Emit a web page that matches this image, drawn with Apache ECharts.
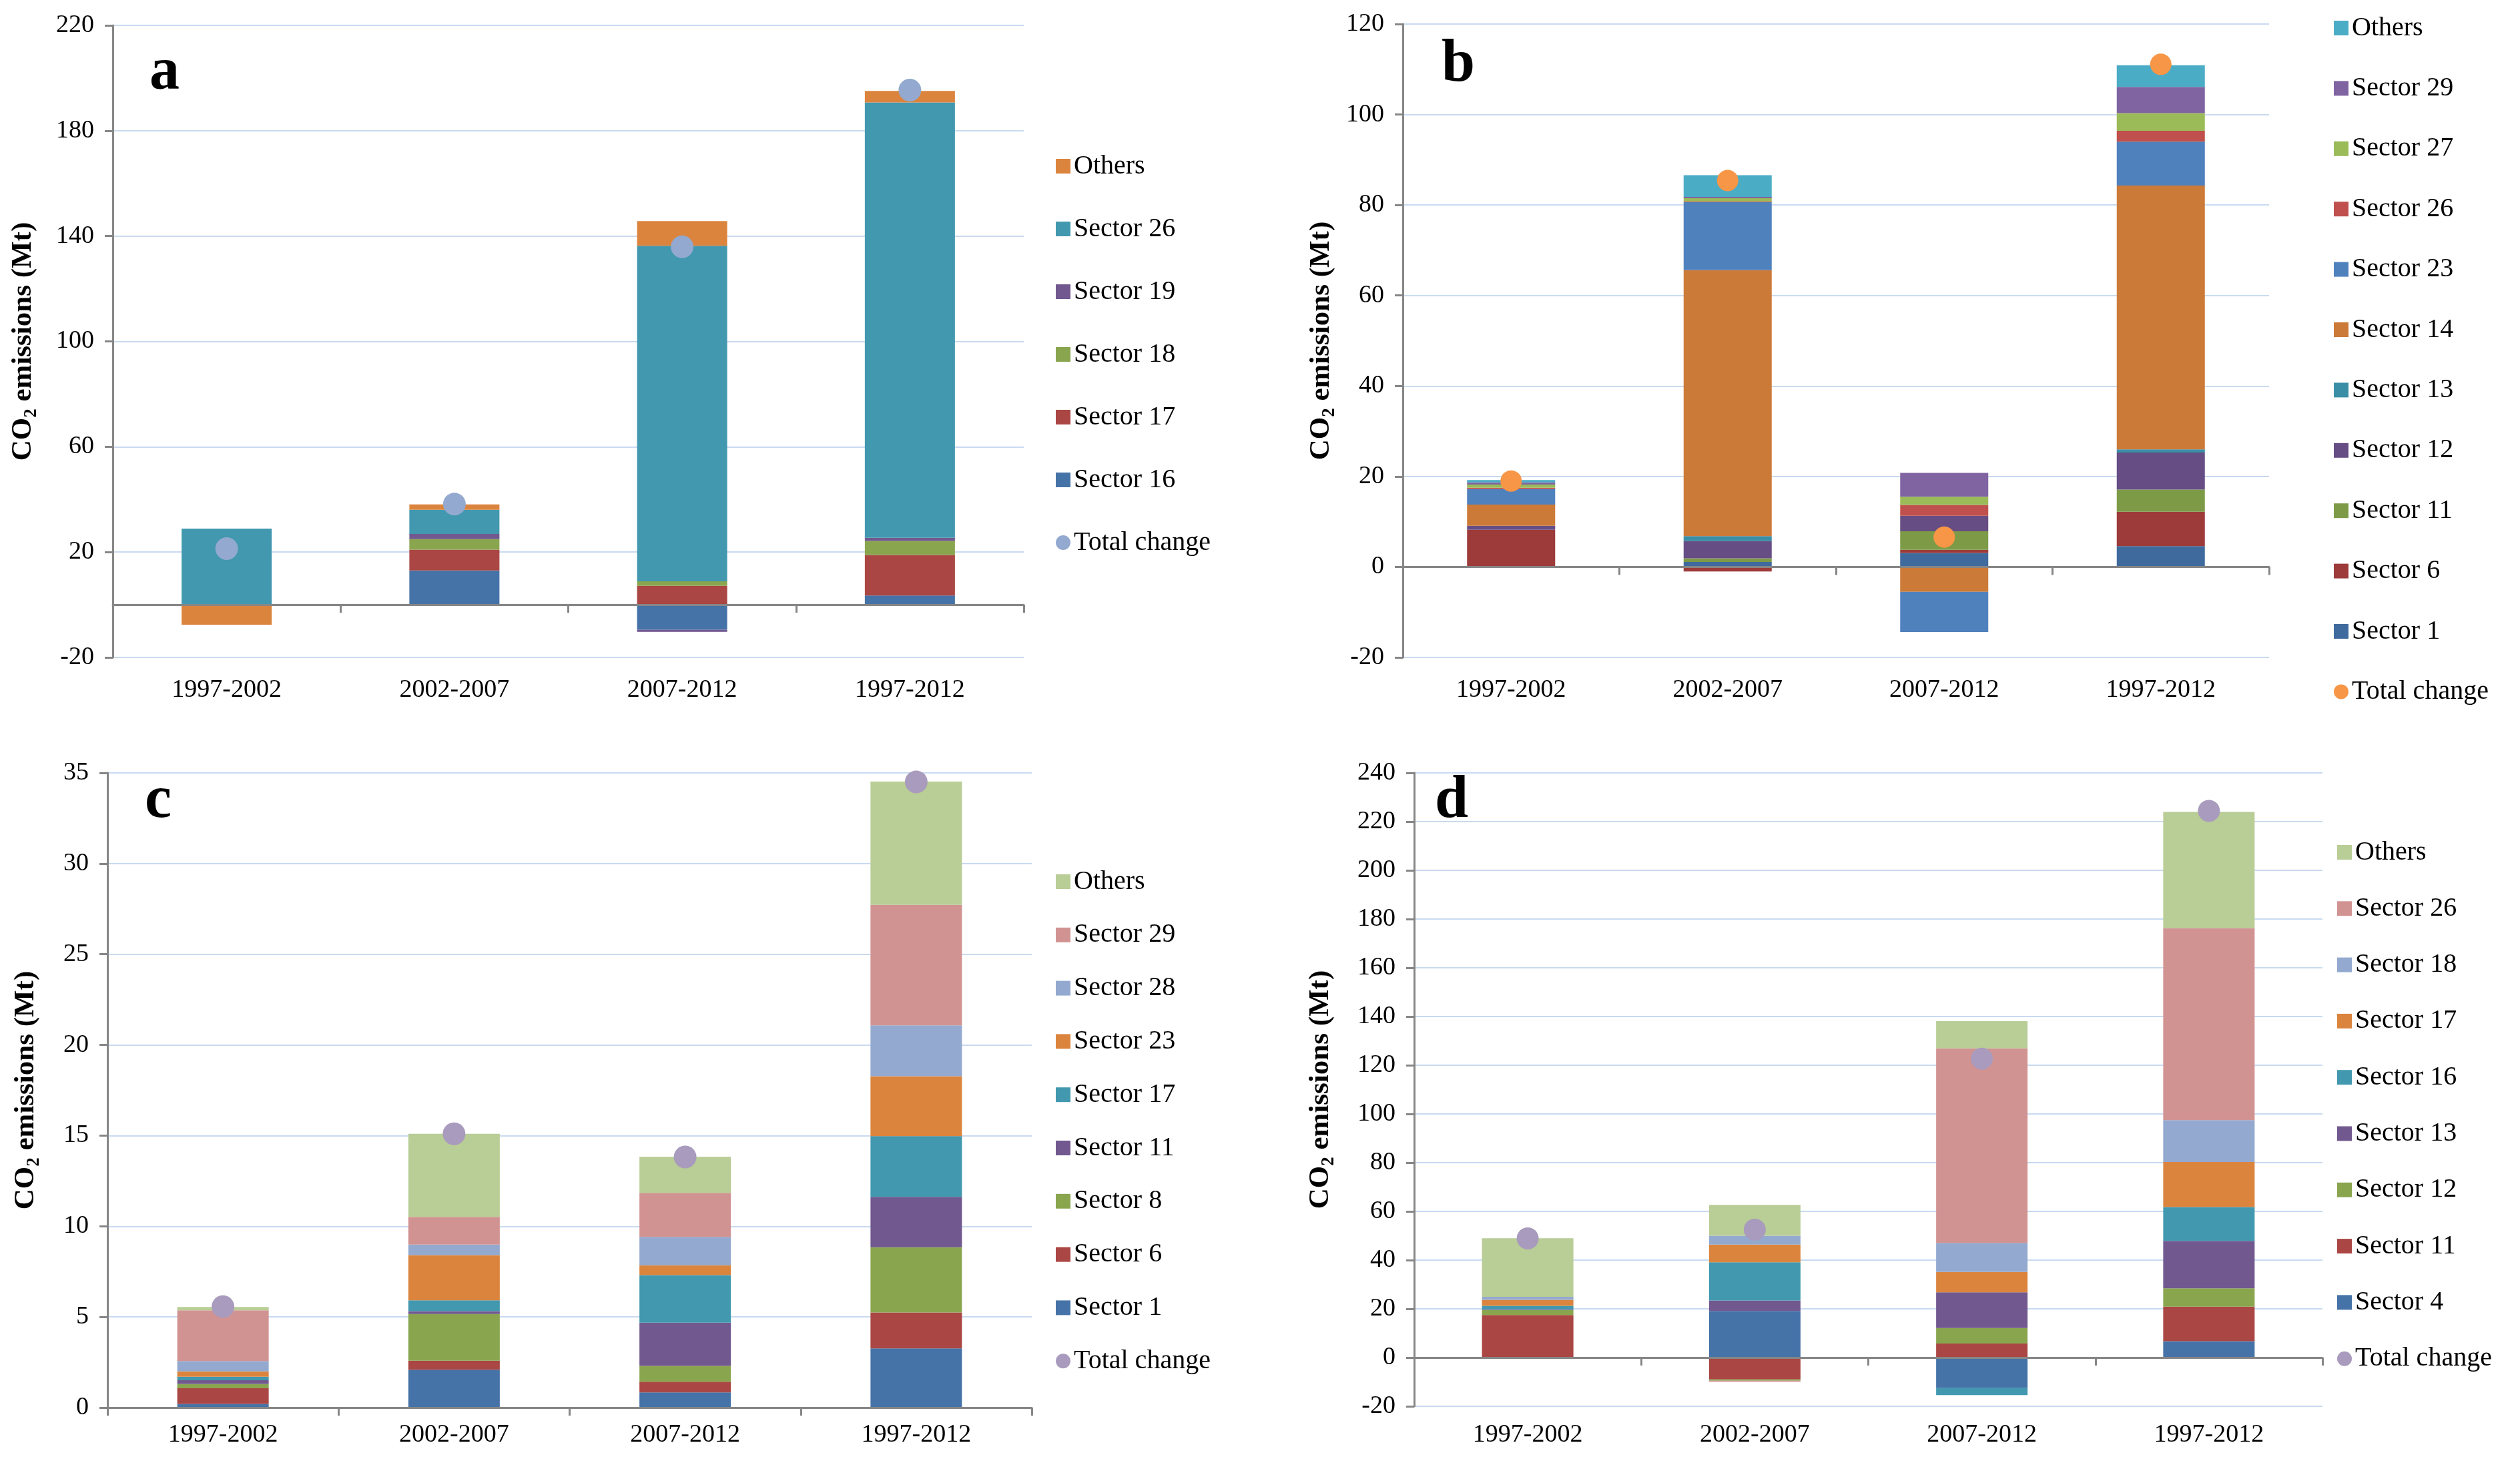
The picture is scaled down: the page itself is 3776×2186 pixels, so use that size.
<!DOCTYPE html>
<html>
<head>
<meta charset="utf-8">
<script src="https://cdn.jsdelivr.net/npm/echarts@6/dist/echarts.min.js"></script>
<style>
html,body{margin:0;padding:0;background:#fff;}
#chart{width:3776px;height:2186px;}
</style>
</head>
<body>
<div id="chart"></div>
<script>
// ---------- DATA ----------
var categories = ['1997-2002', '2002-2007', '2007-2012', '1997-2012'];

// Panel a
var aNames = ['Sector 16', 'Sector 17', 'Sector 18', 'Sector 19', 'Sector 26', 'Others'];
var aSector16 = [0, 13.0, -9.5, 3.5];
var aSector17 = [0, 7.9, 7.2, 15.4];
var aSector18 = [-0.5, 4.0, 1.7, 5.3];
var aSector19 = [0, 2.0, -0.8, 1.2];
var aSector26 = [28.9, 9.2, 127.4, 165.3];
var aOthers = [-7.1, 2.0, 9.4, 4.4];
var aTotal = [21.3, 38.2, 135.9, 195.4];
var aTicks = {min: -20, max: 220, interval: 40};

// Panel b
var bNames = ['Sector 1', 'Sector 6', 'Sector 11', 'Sector 12', 'Sector 13', 'Sector 14', 'Sector 23', 'Sector 26', 'Sector 27', 'Sector 29', 'Others'];
var bSector1 = [0, 1.1, 3.1, 4.6];
var bSector6 = [8.2, -1.0, 0.7, 7.6];
var bSector11 = [0, 0.8, 4.1, 4.9];
var bSector12 = [0.9, 3.8, 3.4, 8.2];
var bSector13 = [0, 1.1, 0, 0.7];
var bSector14 = [4.7, 58.8, -5.5, 58.3];
var bSector23 = [3.4, 15.0, -8.9, 9.7];
var bSector26 = [0.3, 0.2, 2.4, 2.4];
var bSector27 = [0.7, 0.7, 1.8, 3.9];
var bSector29 = [0.5, 0.3, 5.3, 5.8];
var bOthers = [0.5, 4.8, 0, 4.8];
var bTotal = [19.0, 85.4, 6.6, 111.1];
var bTicks = {min: -20, max: 120, interval: 20};

// Panel c
var cNames = ['Sector 1', 'Sector 6', 'Sector 8', 'Sector 11', 'Sector 17', 'Sector 23', 'Sector 28', 'Sector 29', 'Others'];
var cSector1 = [0.2, 2.09, 0.84, 3.27];
var cSector6 = [0.87, 0.5, 0.59, 1.97];
var cSector8 = [0.24, 2.57, 0.87, 3.6];
var cSector11 = [0.2, 0.16, 2.38, 2.78];
var cSector17 = [0.19, 0.6, 2.63, 3.35];
var cSector23 = [0.3, 2.49, 0.54, 3.3];
var cSector28 = [0.57, 0.58, 1.56, 2.81];
var cSector29 = [2.79, 1.53, 2.43, 6.64];
var cOthers = [0.19, 4.58, 1.99, 6.8];
var cTotal = [5.57, 15.1, 13.82, 34.5];
var cTicks = {min: 0, max: 35, interval: 5};

// Panel d
var dNames = ['Sector 4', 'Sector 11', 'Sector 12', 'Sector 13', 'Sector 16', 'Sector 17', 'Sector 18', 'Sector 26', 'Others'];
var dSector4 = [0, 19.1, -12.5, 6.7];
var dSector11 = [17.5, -9.0, 5.75, 14.2];
var dSector12 = [2.0, -0.5, 6.4, 7.5];
var dSector13 = [0.3, 4.3, 14.6, 19.5];
var dSector16 = [1.45, 15.7, -2.9, 13.9];
var dSector17 = [2.45, 7.3, 8.4, 18.5];
var dSector18 = [1.2, 3.6, 11.9, 17.2];
var dSector26 = [0, -0.4, 79.9, 78.7];
var dOthers = [24.1, 12.7, 11.1, 47.8];
var dTotal = [48.9, 52.5, 122.7, 224.4];
var dTicks = {min: -20, max: 240, interval: 20};

// ---------- STYLE ----------
var FONT = 'Liberation Serif';
var AXIS_GREY = '#868686';
var GRID_BLUE = '#C9DAF0';
var SEP = '@@';

var panels = [
  {
    letter: 'a', names: aNames,
    values: [aSector16, aSector17, aSector18, aSector19, aSector26, aOthers],
    colors: ['#4572A7', '#AA4643', '#89A54E', '#71588F', '#4198AF', '#DB843D'],
    total: aTotal, totalColor: '#93A9CF', dot: 34, ticks: aTicks,
    grid: {left: 169, top: 38, width: 1365, height: 947}, barWidth: 135,
    legend: {left: 1577, top: 224, spacing: 94}, letterPos: [224, 110], nameGap: 108, xMargin: 30
  },
  {
    letter: 'b', names: bNames,
    values: [bSector1, bSector6, bSector11, bSector12, bSector13, bSector14, bSector23, bSector26, bSector27, bSector29, bOthers],
    colors: ['#3F6A9D', '#9C3B39', '#7D9B47', '#664D84', '#3A8EA6', '#CC7A38', '#4F81BD', '#C0504D', '#9BBB59', '#8064A2', '#4BACC6'],
    total: bTotal, totalColor: '#F79646', dot: 32, ticks: bTicks,
    grid: {left: 2102, top: 36, width: 1298, height: 949}, barWidth: 132,
    legend: {left: 3492, top: 17, spacing: 90.4}, letterPos: [2160, 98], nameGap: 96, xMargin: 30
  },
  {
    letter: 'c', names: cNames,
    values: [cSector1, cSector6, cSector8, cSector11, cSector17, cSector23, cSector28, cSector29, cOthers],
    colors: ['#4572A7', '#AA4643', '#89A54E', '#71588F', '#4198AF', '#DB843D', '#93A9CF', '#D19392', '#B9CD96'],
    total: cTotal, totalColor: '#A99BBD', dot: 34, ticks: cTicks,
    grid: {left: 161, top: 1158, width: 1385, height: 951}, barWidth: 137,
    legend: {left: 1577, top: 1296, spacing: 79.8}, letterPos: [217, 1201], nameGap: 96, xMargin: 22
  },
  {
    letter: 'd', names: dNames,
    values: [dSector4, dSector11, dSector12, dSector13, dSector16, dSector17, dSector18, dSector26, dOthers],
    colors: ['#4572A7', '#AA4643', '#89A54E', '#71588F', '#4198AF', '#DB843D', '#93A9CF', '#D19392', '#B9CD96'],
    total: dTotal, totalColor: '#A99BBD', dot: 33, ticks: dTicks,
    grid: {left: 2119, top: 1158, width: 1361, height: 949}, barWidth: 137,
    legend: {left: 3497, top: 1252, spacing: 84.3}, letterPos: [2150, 1201], nameGap: 114, xMargin: 24
  }
];

var option = {
  animation: false,
  backgroundColor: '#ffffff',
  grid: [], xAxis: [], yAxis: [], series: [], legend: [], graphic: []
};

function uid(nm, i) { return nm + SEP + i; }

panels.forEach(function (p, i) {
  option.grid.push(Object.assign({containLabel: false}, p.grid));
  // category label axis (bottom, no line)
  option.xAxis.push({
    type: 'category', gridIndex: i, data: categories, position: 'bottom',
    axisLine: {show: false, onZero: false},
    axisTick: {show: false},
    axisLabel: {fontFamily: FONT, fontSize: 38, color: '#000', margin: p.xMargin},
    splitLine: {show: false}
  });
  // zero line axis with boundary ticks
  option.xAxis.push({
    type: 'category', gridIndex: i, data: categories, position: 'bottom', z: 5,
    axisLine: {show: true, onZero: true, lineStyle: {color: AXIS_GREY, width: 3}},
    axisTick: {show: true, length: 12, inside: false, lineStyle: {color: AXIS_GREY, width: 3}},
    axisLabel: {show: false},
    splitLine: {show: false}
  });
  option.yAxis.push({
    type: 'value', gridIndex: i,
    min: p.ticks.min, max: p.ticks.max, interval: p.ticks.interval,
    name: '{t|CO}{s|2}{t| emissions (Mt)}',
    nameLocation: 'middle', nameGap: p.nameGap, nameRotate: 90,
    nameTextStyle: {
      rich: {
        t: {fontFamily: FONT, fontWeight: 'bold', fontSize: 43, color: '#000', lineHeight: 52},
        s: {fontFamily: FONT, fontWeight: 'bold', fontSize: 27, color: '#000', lineHeight: 52, verticalAlign: 'bottom'}
      }
    },
    axisLine: {show: true, lineStyle: {color: AXIS_GREY, width: 3}},
    axisTick: {show: true, length: 12, lineStyle: {color: AXIS_GREY, width: 3}},
    axisLabel: {fontFamily: FONT, fontSize: 38, color: '#000', margin: 28},
    splitLine: {show: true, lineStyle: {color: GRID_BLUE, width: 2}}
  });

  var xIdx = i * 2;
  p.names.forEach(function (nm, k) {
    option.series.push({
      type: 'bar', name: uid(nm, i), xAxisIndex: xIdx, yAxisIndex: i,
      stack: 'panel' + i, barWidth: p.barWidth,
      data: p.values[k],
      itemStyle: {color: p.colors[k]}
    });
  });
  option.series.push({
    type: 'scatter', name: uid('Total change', i), xAxisIndex: xIdx, yAxisIndex: i,
    data: p.total, symbol: 'circle', symbolSize: p.dot, z: 10,
    itemStyle: {color: p.totalColor, opacity: 1}
  });

  var legendData = p.names.slice().reverse().map(function (nm) {
    return {name: uid(nm, i), icon: 'rect'};
  });
  legendData.push({name: uid('Total change', i), icon: 'circle'});
  option.legend.push({
    orient: 'vertical', left: p.legend.left, top: p.legend.top,
    itemWidth: 22, itemHeight: 22, itemGap: p.legend.spacing - 40,
    selectedMode: false,
    textStyle: {fontFamily: FONT, fontSize: 40, color: '#000', lineHeight: 40},
    formatter: function (name) { return name.split(SEP)[0]; },
    data: legendData
  });

  option.graphic.push({
    type: 'text', left: p.letterPos[0], top: p.letterPos[1] - 45,
    style: {text: p.letter, font: 'bold 90px "Liberation Serif"', fill: '#000'}
  });
});

var chart = echarts.init(document.getElementById('chart'), null, {renderer: 'canvas'});
chart.setOption(option);
</script>
</body>
</html>
